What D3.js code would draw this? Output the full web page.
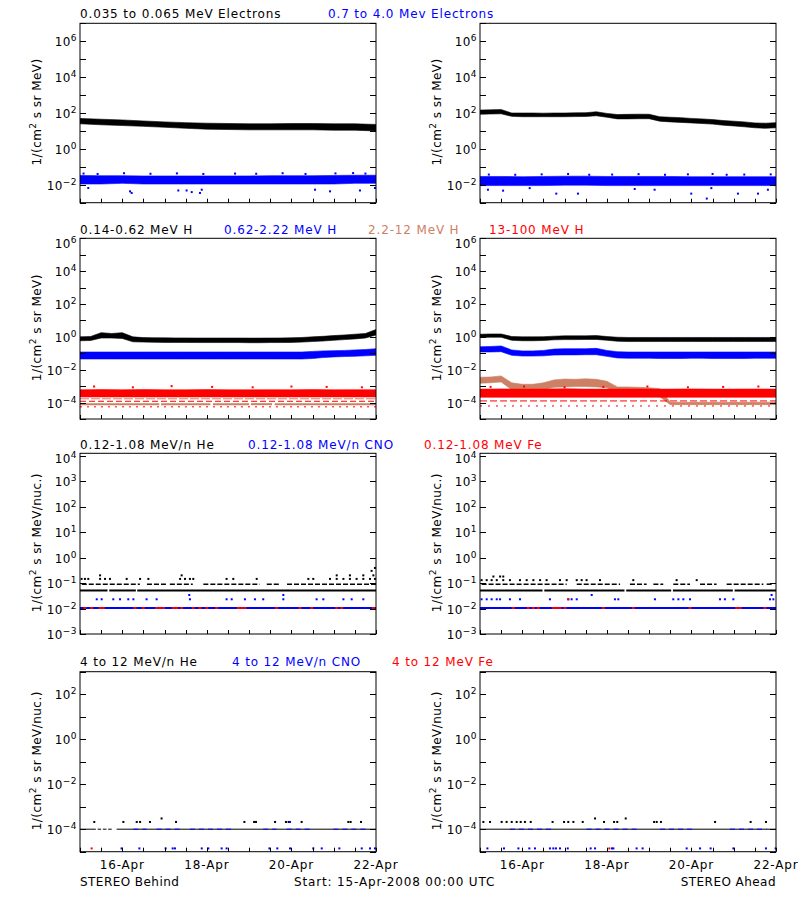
<!DOCTYPE html>
<html><head><meta charset="utf-8">
<script src="https://cdn.jsdelivr.net/npm/d3@7"></script>
<style>
body{margin:0;background:#fff}
svg{display:block}
text{font-family:"DejaVu Sans",sans-serif;letter-spacing:0.45px}
text.wide{letter-spacing:0.85px}
</style></head>
<body><svg id="c" width="800" height="900"></svg>
<script>
// ---------------- DATA ----------------
const hours6 = [0,6,12,18,24,30,36,42,48,54,60,66,72,78,84,90,96,102,108,114,120,126,132,138,144,150,156,162,168];
const hours12 = [0,12,24,36,48,60,72,84,96,108,120,132,144,156,168];
const xTickHours = [0,12,24,36,48,60,72,84,96,108,120,132,144,156,168];
const xLabelHours = [24,72,120,168];
const xLabelText = ["16-Apr","18-Apr","20-Apr","22-Apr"];

const yLabelExps = [[-2,0,2,4,6],[-4,-2,0,2,4,6],[-3,-2,-1,0,1,2,3,4],[-4,-2,0,2]];

// Row 1 : electrons
const behE1Lo = [25,22,20,18,16,14,12.5,12,11.5,11.5,11.5,11.5,11,11,10];
const behE1Hi = [50,45,41,36,32,29,27,26,25,25,26,26,25,25,23];
const behE2Lo = [0.011,0.011,0.012,0.011,0.011,0.011,0.011,0.011,0.011,0.011,0.011,0.011,0.011,0.012,0.012];
const behE2Hi = [0.033,0.032,0.032,0.031,0.031,0.031,0.031,0.031,0.031,0.032,0.032,0.032,0.033,0.034,0.034];
const behE2OutT = [4.7,28.4,29.3,55.8,60.5,63.4,68.1,69.1,133.4,141.9,158.9,167.4];
const behE2OutV = [0.0066,0.0043,0.0035,0.0048,0.0048,0.0039,0.0035,0.0053,0.0053,0.0043,0.0048,0.0066];
const behE2HiT = [2,10,25,40,55,70,88,100,115,128,145,155,162];
const behE2HiV = [0.042,0.040,0.044,0.041,0.043,0.040,0.042,0.041,0.044,0.040,0.043,0.045,0.042];

const ahdE1Lo = [85,88,90,65,62,62,62,62,62,63,64,70,58,47,47,48,48,35,32,30,28,26,24,21,19,17,15,14,15];
const ahdE1Hi = [145,150,155,100,100,100,98,100,100,102,104,117,95,82,84,86,85,62,58,55,50,47,43,38,35,32,28,27,29];
const ahdE2Lo = [0.009,0.009,0.009,0.009,0.0095,0.0095,0.009,0.009,0.009,0.009,0.009,0.009,0.009,0.009,0.009];
const ahdE2Hi = [0.029,0.029,0.028,0.029,0.030,0.030,0.029,0.029,0.029,0.029,0.028,0.028,0.028,0.028,0.028];
const ahdE2OutT = [4.5,13.1,28.2,43.3,55.6,87.8,99.1,119.9,128.7,131.3,146.4,157.8,163.4];
const ahdE2OutV = [0.0053,0.0047,0.0065,0.0032,0.0032,0.0058,0.0053,0.0032,0.0017,0.0065,0.0032,0.0032,0.0053];
const ahdE2HiT = [5,20,35,50,62,75,90,105,118,132,140,150,165];
const ahdE2HiV = [0.037,0.036,0.038,0.040,0.036,0.037,0.039,0.036,0.038,0.040,0.036,0.037,0.038];

// Row 2 : protons
const behH1Lo = [0.58,0.6,0.85,0.85,0.8,0.5,0.48,0.47,0.46,0.46,0.46,0.45,0.45,0.45,0.45,0.45,0.44,0.44,0.45,0.45,0.46,0.48,0.52,0.56,0.62,0.68,0.75,0.85,1.3];
const behH1Hi = [1.0,1.05,1.8,1.6,1.8,1.0,0.9,0.88,0.87,0.86,0.86,0.85,0.85,0.85,0.85,0.85,0.84,0.84,0.85,0.86,0.88,0.92,1.0,1.08,1.2,1.3,1.45,1.6,2.8];
const behH2Lo = [0.045,0.045,0.045,0.045,0.045,0.045,0.045,0.045,0.045,0.045,0.045,0.045,0.045,0.045,0.045,0.045,0.045,0.045,0.045,0.045,0.045,0.045,0.048,0.055,0.06,0.063,0.066,0.07,0.075];
const behH2Hi = [0.12,0.12,0.12,0.12,0.12,0.12,0.12,0.12,0.12,0.12,0.12,0.12,0.12,0.12,0.12,0.12,0.12,0.12,0.12,0.12,0.12,0.12,0.13,0.14,0.145,0.15,0.16,0.17,0.19];
const behH4Lo = [2.2e-4,2.2e-4,2.2e-4,2.2e-4,2.2e-4,2.2e-4,2.2e-4,2.2e-4,2.2e-4,2.2e-4,2.2e-4,2.2e-4,2.2e-4,2.2e-4,2.2e-4];
const behH4Hi = [6.0e-4,6.2e-4,6.0e-4,6.3e-4,6.0e-4,6.0e-4,6.2e-4,6.0e-4,6.0e-4,6.1e-4,6.0e-4,6.2e-4,6.0e-4,6.1e-4,6.0e-4];
const behH4UpT = [8,30,52,75,98,120,140,160];
const behH4UpV = [9.5e-4,8.5e-4,1.0e-3,9.0e-4,8.5e-4,9.5e-4,9.0e-4,8.5e-4];
const behH3Lvl1 = [[0,45],[46,74],[75.5,96],[97,109],[110.5,168]];   // 2.2-12 MeV H at 8e-5
const behH3Lvl2 = [[0,168]];                                          // 2.2-12 MeV H at 1.7e-4

const ahdH1Lo = [0.93,0.95,0.95,0.62,0.58,0.58,0.6,0.66,0.68,0.68,0.7,0.7,0.62,0.54,0.52,0.52,0.52,0.52,0.52,0.52,0.52,0.52,0.52,0.52,0.52,0.52,0.52,0.52,0.52];
const ahdH1Hi = [1.45,1.5,1.5,1.05,1.0,1.0,1.02,1.1,1.15,1.15,1.15,1.2,1.05,0.95,0.92,0.92,0.92,0.92,0.92,0.92,0.92,0.92,0.92,0.92,0.92,0.92,0.92,0.92,0.92];
const ahdH2Lo = [0.12,0.12,0.125,0.075,0.068,0.068,0.07,0.078,0.08,0.08,0.082,0.082,0.065,0.052,0.05,0.05,0.05,0.048,0.048,0.048,0.05,0.05,0.048,0.048,0.048,0.048,0.05,0.05,0.05];
const ahdH2Hi = [0.25,0.26,0.28,0.16,0.14,0.14,0.15,0.18,0.19,0.19,0.19,0.2,0.15,0.125,0.12,0.12,0.12,0.12,0.12,0.12,0.12,0.12,0.12,0.12,0.12,0.12,0.12,0.12,0.12];
const ahdH3Lo = [1.5e-3,1.6e-3,1.8e-3,6e-4,5.5e-4,5.5e-4,6e-4,8.5e-4,9e-4,9.5e-4,9.5e-4,9e-4,8e-4,3e-4,2.5e-4,2.5e-4,2.5e-4,2.3e-4,7.5e-5,7.5e-5,7.5e-5,7.5e-5,7.5e-5,7.5e-5,7.5e-5,7.5e-5,7.5e-5,7.5e-5,7.5e-5];
const ahdH3Hi = [3.5e-3,3.6e-3,4.2e-3,1.6e-3,1.3e-3,1.3e-3,1.6e-3,2.4e-3,2.7e-3,2.6e-3,2.8e-3,2.6e-3,2.0e-3,9e-4,9e-4,8.5e-4,8e-4,7e-4,1.05e-4,1.05e-4,1.05e-4,1.05e-4,1.05e-4,1.05e-4,1.05e-4,1.05e-4,1.05e-4,1.05e-4,1.05e-4];
const ahdH4Lo = [2.1e-4,2.1e-4,2.1e-4,2.1e-4,2.1e-4,2.1e-4,2.1e-4,2.1e-4,2.1e-4,2.1e-4,2.1e-4,2.1e-4,2.1e-4,2.1e-4,2.1e-4];
const ahdH4Hi = [6.6e-4,6.8e-4,6.6e-4,6.6e-4,6.9e-4,6.6e-4,6.6e-4,6.7e-4,6.6e-4,6.6e-4,6.8e-4,6.6e-4,6.6e-4,6.7e-4,6.6e-4];
const ahdH4UpT = [6,25,48,70,95,118,138,158];
const ahdH4UpV = [9.0e-4,9.5e-4,8.5e-4,9.0e-4,9.5e-4,8.5e-4,9.0e-4,9.5e-4];

// Row 3 : low-energy heavy ions
const behLHeLine = [[0,15.6],[16.6,31.7],[32.5,168]];
const behLHeDash = [[1,34],[38,49],[51,64],[70,102],[106,113.5],[117.5,168]];
const behLHe145T = [0.9,2.8,4.7,11.4,14.2,17.0,26.5,34.1,38.8,56.8,59.6,62.4,64.3,83.2,87.0,100.3,129.6,132.4,141.9,145.7,149.5,153.2,157.0,160.8,164.6,167.4];
const behLHe2T = [11.4,57.7,145.7,153.2,160.8,166.5];
const behLHeTopT = [165.5,167.4];
const behLHeTopV = [0.3,0.39];
const behLCNO023T = [9.5,12.3,18.9,22.7,27.4,30.3,37.8,43.5,62.4,83.2,86.1,93.6,99.3,104.0,115.4,134.3,138.1,149.5,154.2,160.8];
const behLCNO034T = [62.0,115.4];
const behLFeT = [2.8,6.6,11.4,13.2,31.2,35.9,43.5,45.4,47.3,53.0,54.9,57.7,64.3,68.1,71.9,77.6,89.9,91.8,93.6,111.6,124.9,131.5,145.7,148.5,166.5];

const ahdLHeLine = [[0,35.5],[36.5,82],[83,108.5],[109.5,143.5],[144.5,168]];
const ahdLHeDash = [[0.9,49.2],[54.9,79.5],[85.1,94.6],[98.4,104],[109.7,119.2],[124.9,134.3],[140,160.8],[162.7,166.5]];
const ahdLHe13T = [0.9,3.8,6.6,9.5,13.2,17.0,22.7,26.5,30.3,34.1,37.8,45.4,49.2,54.9,57.7,60.5,68.1,87.0,111.6,123.0];
const ahdLHe18T = [7.6,11.4,13.2];
const ahdLCNO023T = [0.9,3.8,6.6,9.5,11.4,17.0,22.7,39.7,50.1,52.0,54.9,76.6,78.5,99.3,109.7,112.6,115.4,119.2,136.2,139.0,143.8,164.6,166.5];
const ahdLCNO034T = [63.4,165.5];
const ahdLFeT = [18.9,27.4,30.3,33.1,41.6,43.5,45.4,48.2,70.0,87.0,119.2,145.7,147.6,161.7];
const ahdLFe023T = [50.1];

// Row 4 : 4-12 MeV/n heavy ions
const behHHeLine = [[0,9],[10,12],[13,15],[16,18],[20.8,168]];
const behHHe21T = [8.1,24.6,32.2,34.1,39.7,54.5,93.3,98.8,99.9,110.7,116.9,118.4,125.8,152.3,153.6,159.5];
const behHHe3T = [46.3];
const behHCNOLine = [[30.3,37.8],[43.5,56.8],[62.4,87],[104,111.6],[117.3,132.4],[143.8,162.7]];
const behHCNOLowT = [23.6,33.7,48.6,52.6,53.9,69.1,72.8,80.4,83.2,107.5,112.0,119.2,132.4,137.2,147.2,159.9,164.6,167.4];
const behHCNO2T = [119.2];
const behHFeT = [6.6];

const ahdHHeLine = [[0,168]];
const ahdHHe21T = [1.9,5.7,12.3,15.1,18.0,20.8,23.1,25.5,28.8,41.2,47.7,50.1,53.0,58.3,70.4,76.1,77.9,98.8,100.3,102.7,133.4,153.6,162.3];
const ahdHHe3T = [65.3,82.7];
const ahdHCNOLine = [[17,41.6],[60.5,90.8],[102.2,121.1],[141.9,162.7]];
const ahdHCNOLowT = [4.2,13.6,21.8,28.0,31.2,39.7,41.6,43.1,45.4,49.8,62.8,65.3,74.9,75.7,88.9,92.3,117.3,124.9,130.9,143.8,162.3,167.8];
const ahdHFeT = [73.4];

// Titles
const titles = [
  {row:0, items:[["0.035 to 0.065 MeV Electrons","#000",80],["0.7 to 4.0 Mev Electrons","#0000ff",328]]},
  {row:1, items:[["0.14-0.62 MeV H","#000",80],["0.62-2.22 MeV H","#0000ff",224],["2.2-12 MeV H","#cd8064",368],["13-100 MeV H","#ff0000",489]]},
  {row:2, items:[["0.12-1.08 MeV/n He","#000",80],["0.12-1.08 MeV/n CNO","#0000ff",248],["0.12-1.08 MeV Fe","#ff0000",424]]},
  {row:3, items:[["4 to 12 MeV/n He","#000",80],["4 to 12 MeV/n CNO","#0000ff",232],["4 to 12 MeV Fe","#ff0000",392]]}
];

// ---------------- LAYOUT ----------------
const BLACK="#000", BLUE="#0000ff", RED="#ff0000", SIENNA="#cd8064";
const cols = [[80,376],[480,776]];
const rows = [[23.3,202.7],[238.3,419],[453.3,634],[671.7,851.7]];
const titleY = [17.5,233.5,448.5,666];
const yDomains = [[1e-3,1e7],[1e-5,1e6],[1e-3,Math.pow(10,4.09)],[1e-5,1e3]];
const yUnits = ["MeV","MeV","MeV/nuc.","MeV/nuc."];

const zip = (ts,lo,hi)=>ts.map((t,i)=>({t,lo:lo[i],hi:hi[i]}));
const pts = (ts,v)=>ts.map((t,i)=>({t,v:Array.isArray(v)?v[i]:v}));

const panels = [
  {r:0,c:0,bands:[[zip(hours12,behE1Lo,behE1Hi),BLACK],[zip(hours12,behE2Lo,behE2Hi),BLUE]],
   points:[[pts(behE2OutT,behE2OutV),BLUE],[pts(behE2HiT,behE2HiV),BLUE]],levels:[]},
  {r:0,c:1,bands:[[zip(hours6,ahdE1Lo,ahdE1Hi),BLACK],[zip(hours12,ahdE2Lo,ahdE2Hi),BLUE]],
   points:[[pts(ahdE2OutT,ahdE2OutV),BLUE],[pts(ahdE2HiT,ahdE2HiV),BLUE]],levels:[]},
  {r:1,c:0,bands:[[zip(hours6,behH1Lo,behH1Hi),BLACK],[zip(hours6,behH2Lo,behH2Hi),BLUE],[zip(hours12,behH4Lo,behH4Hi),RED]],
   points:[[pts(behH4UpT,behH4UpV),RED]],
   levels:[{v:1.7e-4,segs:behH3Lvl2,color:SIENNA,w:1,dash:"9,2"},{v:1.2e-4,segs:[[0,168]],color:RED,w:1,dash:"6,3"},
           {v:8e-5,segs:behH3Lvl1,color:SIENNA,w:2,dash:null},{v:5.5e-5,segs:[[0,168]],color:RED,w:1,dash:"2,5"}]},
  {r:1,c:1,bands:[[zip(hours6,ahdH1Lo,ahdH1Hi),BLACK],[zip(hours6,ahdH2Lo,ahdH2Hi),BLUE],[zip(hours6,ahdH3Lo,ahdH3Hi),SIENNA],[zip(hours12,ahdH4Lo,ahdH4Hi),RED]],
   points:[[pts(ahdH4UpT,ahdH4UpV),RED]],
   levels:[{v:1.26e-4,segs:[[0,168]],color:RED,w:1,dash:"7,3"},{v:6.2e-5,segs:[[0,168]],color:RED,w:1,dash:"2,6"}]},
  {r:2,c:0,bands:[],
   points:[[pts(behLHe145T,0.145),BLACK],[pts(behLHe2T,0.2),BLACK],[pts(behLHeTopT,behLHeTopV),BLACK],
           [pts(behLCNO023T,0.023),BLUE],[pts(behLCNO034T,0.034),BLUE]],
   levels:[{v:0.09,segs:behLHeDash,color:BLACK,w:1.5,dash:"5,2"},{v:0.051,segs:behLHeLine,color:BLACK,w:2,dash:null},
           {v:0.0105,segs:[[0,168]],color:BLUE,w:2,dash:null}],
   ticks:[[pts(behLFeT,0.0105),RED]]},
  {r:2,c:1,bands:[],
   points:[[pts(ahdLHe13T,0.13),BLACK],[pts(ahdLHe18T,0.18),BLACK],
           [pts(ahdLCNO023T,0.023),BLUE],[pts(ahdLCNO034T,0.034),BLUE],[pts(ahdLFe023T,0.023),RED]],
   levels:[{v:0.09,segs:ahdLHeDash,color:BLACK,w:1.5,dash:"5,2"},{v:0.051,segs:ahdLHeLine,color:BLACK,w:2,dash:null},
           {v:0.0105,segs:[[0,168]],color:BLUE,w:2,dash:null}],
   ticks:[[pts(ahdLFeT,0.0105),RED]]},
  {r:3,c:0,bands:[],
   points:[[pts(behHHe21T,2.1e-4),BLACK],[pts(behHHe3T,3e-4),BLACK],[pts(behHCNO2T,2.1e-4),BLUE],
           [pts(behHCNOLowT,1.4e-5),BLUE],[pts(behHFeT,1.4e-5),RED]],
   levels:[{v:1e-4,segs:behHHeLine,color:BLACK,w:1,dash:null},{v:1e-4,segs:behHCNOLine,color:BLUE,w:1,dash:"5,4"}]},
  {r:3,c:1,bands:[],
   points:[[pts(ahdHHe21T,2.1e-4),BLACK],[pts(ahdHHe3T,3e-4),BLACK],
           [pts(ahdHCNOLowT,1.4e-5),BLUE],[pts(ahdHFeT,1.4e-5),RED]],
   levels:[{v:1e-4,segs:ahdHHeLine,color:BLACK,w:1,dash:null},{v:1e-4,segs:ahdHCNOLine,color:BLUE,w:1,dash:"5,4"}]}
];

// ---------------- DRAW ----------------
const svg = d3.select("#c");
svg.append("rect").attr("width",800).attr("height",900).attr("fill","#fff");
const defs = svg.append("defs");

panels.forEach((p,pi)=>{
  const [x0,x1] = cols[p.c], [y0,y1] = rows[p.r];
  const x = d3.scaleLinear().domain([0,168]).range([x0,x1]);
  const y = d3.scaleLog().domain(yDomains[p.r]).range([y1,y0]);
  const cid = "clip"+pi;
  defs.append("clipPath").attr("id",cid).append("rect").attr("x",x0).attr("y",y0).attr("width",x1-x0).attr("height",y1-y0);
  const g = svg.append("g").attr("clip-path",`url(#${cid})`);

  const area = d3.area().x(d=>x(d.t)).y0(d=>y(d.lo)).y1(d=>y(d.hi)).curve(d3.curveLinear);
  p.bands.forEach(([data,color])=>{
    g.append("path").datum(data).attr("d",area).attr("fill",color).attr("stroke",color).attr("stroke-width",0.6);
  });
  p.levels.forEach(l=>{
    l.segs.forEach(([a,b])=>{
      g.append("line").attr("x1",x(a)).attr("x2",x(b)).attr("y1",y(l.v)).attr("y2",y(l.v))
        .attr("stroke",l.color).attr("stroke-width",l.w).attr("stroke-dasharray",l.dash);
    });
  });
  p.points.forEach(([data,color])=>{
    g.selectAll(null).data(data).enter().append("rect")
      .attr("x",d=>x(d.t)-1).attr("y",d=>y(d.v)-1).attr("width",2).attr("height",2).attr("fill",color);
  });
  (p.ticks||[]).forEach(([data,color])=>{
    g.selectAll(null).data(data).enter().append("rect")
      .attr("x",d=>x(d.t)-1.5).attr("y",d=>y(d.v)-1).attr("width",3).attr("height",2).attr("fill",color);
  });

  // frame
  svg.append("rect").attr("x",x0).attr("y",y0).attr("width",x1-x0).attr("height",y1-y0)
    .attr("fill","none").attr("stroke","#000").attr("stroke-width",1);

  // y ticks every decade
  const [dlo,dhi] = yDomains[p.r];
  const exps = d3.range(Math.ceil(Math.log10(dlo)-1e-9), Math.floor(Math.log10(dhi)+1e-9)+1);
  exps.forEach(e=>{
    const yy = Math.round(y(Math.pow(10,e)))+0.5;
    svg.append("line").attr("x1",x0).attr("x2",x0+6).attr("y1",yy).attr("y2",yy).attr("stroke","#000");
    svg.append("line").attr("x1",x1-6).attr("x2",x1).attr("y1",yy).attr("y2",yy).attr("stroke","#000");
  });
  yLabelExps[p.r].forEach(e=>{
    const yy = y(Math.pow(10,e));
    const base = Math.max(yy+5, y0+10);
    const t = svg.append("text").attr("x",x0-3).attr("y",base).attr("text-anchor","end")
      .attr("font-size",12).attr("fill","#000");
    t.append("tspan").text("10");
    t.append("tspan").attr("dy",-5).attr("font-size",9).text(e<0?"\u2212"+(-e):String(e));
  });

  // x ticks
  xTickHours.forEach(h=>{
    const xx = Math.round(x(h))+0.5;
    svg.append("line").attr("x1",xx).attr("x2",xx).attr("y1",y1).attr("y2",y1-4).attr("stroke","#000");
  });
  if (p.r===3){
    xLabelHours.forEach((h,i)=>{
      svg.append("text").attr("class","wide").attr("x",x(h)).attr("y",869).attr("text-anchor","middle")
        .attr("font-size",12).text(xLabelText[i]);
    });
  }

  // y axis title
  const cy = (y0+y1)/2 - 1;
  const yt = svg.append("text").attr("transform",`translate(${x0-39},${cy}) rotate(-90)`)
    .attr("text-anchor","middle").attr("font-size",12);
  yt.append("tspan").text("1/(cm");
  yt.append("tspan").attr("dy",-5).attr("font-size",9).text("2");
  yt.append("tspan").attr("dy",5).text(" s sr "+yUnits[p.r]+")");
});

// titles
titles.forEach(tr=>{
  tr.items.forEach(([txt,color,xx])=>{
    svg.append("text").attr("class","wide").attr("x",xx).attr("y",titleY[tr.row]).attr("font-size",12).attr("fill",color).text(txt);
  });
});

// footer
svg.append("text").attr("x",80).attr("y",886).attr("font-size",12).text("STEREO Behind");
svg.append("text").attr("class","wide").attr("x",294).attr("y",886).attr("font-size",12).text("Start: 15-Apr-2008 00:00 UTC");
svg.append("text").attr("x",776).attr("y",886).attr("font-size",12).attr("text-anchor","end").text("STEREO Ahead");
</script>
</body></html>
